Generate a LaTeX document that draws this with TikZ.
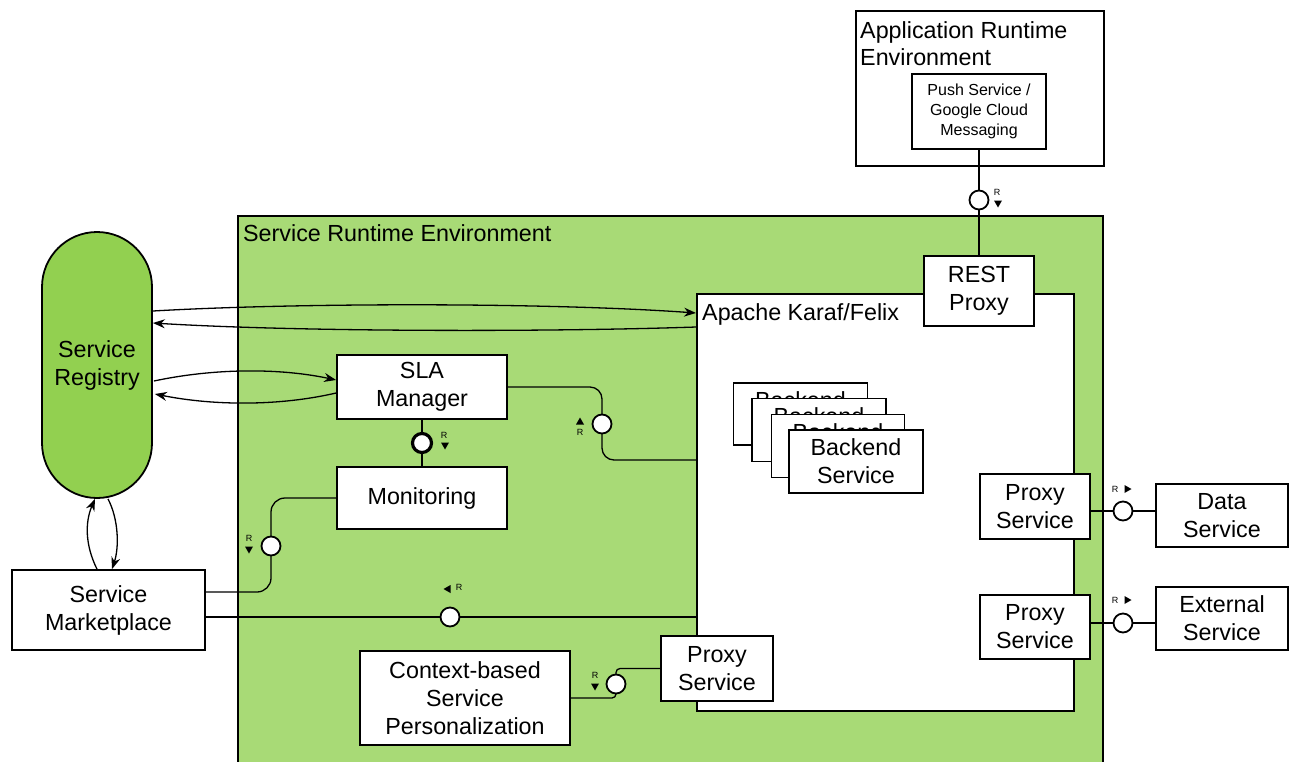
\documentclass[tikz,border=0pt]{standalone}
\usepackage{fontspec}
\setmainfont{Liberation Sans}
\usetikzlibrary{calc,arrows.meta}
\pgfdeclarelayer{bg}
\pgfdeclarelayer{lines}
\pgfsetlayers{bg,lines,main}
\definecolor{sregreen}{RGB}{168,218,118}
\definecolor{reggreen}{RGB}{146,208,80}
\newcommand{\TriDown}[1]{\fill ($(#1)+(-4,-3.5)$) -- ($(#1)+(4,-3.5)$) -- ($(#1)+(0,3.5)$) -- cycle;}
\newcommand{\TriUp}[1]{\fill ($(#1)+(-4,3.5)$) -- ($(#1)+(4,3.5)$) -- ($(#1)+(0,-3.5)$) -- cycle;}
\newcommand{\TriLeft}[1]{\fill ($(#1)+(3.5,-4)$) -- ($(#1)+(3.5,4)$) -- ($(#1)+(-3.5,0)$) -- cycle;}
\newcommand{\TriRight}[1]{\fill ($(#1)+(-3.5,-4)$) -- ($(#1)+(-3.5,4)$) -- ($(#1)+(3.5,0)$) -- cycle;}
\begin{document}
\begin{tikzpicture}[x=1pt,y=-1pt,
  big/.style={font=\fontsize{23.3}{28}\selectfont},
  mid/.style={font=\fontsize{16}{20}\selectfont},
  box/.style={draw, line width=1.8pt, fill=white, align=center, inner sep=0pt, big},
  iface/.style={circle, draw, line width=1.8pt, fill=white, minimum size=19pt, inner sep=0pt},
  conn/.style={line width=1.3pt},
  arr/.style={conn, -{Stealth[length=12pt,width=9pt]}},
  rlab/.style={font=\fontsize{9}{9}\selectfont, inner sep=0pt},
  lbl/.style={big, inner sep=0pt, align=left}]
\useasboundingbox (0,0) rectangle (1290,761);
\clip (0,0) rectangle (1290,761);

\begin{pgfonlayer}{bg}
  \node[draw, line width=1.8pt, fill=sregreen, minimum width=865pt, minimum height=570pt, anchor=north west, inner sep=0pt] (sre) at (237,215) {};
  \node[draw, line width=1.8pt, fill=white, minimum width=377pt, minimum height=417pt, anchor=north west, inner sep=0pt] (karaf) at (696,293) {};
  \node[draw, line width=1.8pt, fill=white, minimum width=248pt, minimum height=155pt, anchor=north west, inner sep=0pt] (app) at (855,10) {};
\end{pgfonlayer}

% labels of containers
\node[lbl, anchor=base west] (tsre) at (243,241) {Service Runtime Environment};
\node[lbl, anchor=base west] (tkar) at (702,320) {Apache Karaf/Felix};
\node[lbl, anchor=base west] (tapp1) at (860,38) {Application Runtime};
\node[lbl, anchor=base west] (tapp2) at (860,65) {Environment};

% boxes
\node[box, mid, minimum width=134pt, minimum height=75pt] (push) at (979,111.5) {Push Service /\\Google Cloud\\Messaging};
\node[box, minimum width=110pt, minimum height=70pt] (rest) at (979,291) {REST\\Proxy};
\node[box, fill=reggreen, rounded corners=55pt, minimum width=110pt, minimum height=266pt] (reg) at (97,365) {Service\\Registry};
\node[box, minimum width=170pt, minimum height=64pt] (sla) at (422,387) {SLA\\Manager};
\node[box, minimum width=170pt, minimum height=62pt] (mon) at (422,498) {Monitoring};
\node[box, minimum width=193pt, minimum height=80pt] (mkt) at (108.5,610) {Service\\Marketplace};
\node[box, minimum width=210pt, minimum height=94pt] (csp) at (465,698) {Context-based\\Service\\Personalization};
\node[box, minimum width=112pt, minimum height=65pt] (proxyB) at (717,668.5) {Proxy\\Service};
\node[box, minimum width=110pt, minimum height=65pt] (proxy1) at (1035,506.5) {Proxy\\Service};
\node[box, minimum width=110pt, minimum height=64pt] (proxy2) at (1035,627) {Proxy\\Service};
\node[box, minimum width=132pt, minimum height=63pt] (data) at (1222,515.5) {Data\\Service};
\node[box, minimum width=132pt, minimum height=63pt] (ext) at (1222,618.5) {External\\Service};
\node[box, minimum width=134pt, minimum height=62pt] (b1) at (800.5,414) {Backend\\Service};
\node[box, minimum width=134pt, minimum height=63pt] (b2) at (819,430) {Backend\\Service};
\node[box, minimum width=133pt, minimum height=63pt] (b3) at (838,446) {Backend\\Service};
\node[box, minimum width=134pt, minimum height=63pt] (b4) at (856,461.5) {Backend\\Service};

% interfaces
\node[iface] (ipush) at (979,200) {};
\node[iface, line width=3.2pt] (isla) at (422,443) {};
\node[iface] (ikar) at (602,424) {};
\node[iface] (imon) at (271,546) {};
\node[iface] (imkt) at (450,617) {};
\node[iface] (icsp) at (616,684) {};
\node[iface] (idata) at (1123,511) {};
\node[iface] (iext) at (1123,623) {};

\begin{pgfonlayer}{lines}
  \draw[conn] (push.south) -- (ipush.center) -- (rest.north);
  \draw[conn] (sla.south) -- (isla.center) -- (mon.north);
  % registry <-> karaf
  \draw[arr] ($(reg.east)+(0,-54)$) .. controls (300,302.5) and (550,302.5) .. ($(karaf.north west)+(0,20)$);
  \draw[arr] ($(karaf.north west)+(0,34)$) .. controls (550,332) and (300,332) .. ($(reg.east)+(0,-42)$);
  % registry <-> sla
  \draw[arr] ($(reg.east)+(1,16)$) .. controls (215,368) and (280,368) .. ($(sla.west)+(0,-7)$);
  \draw[arr] ($(sla.west)+(0,6)$) .. controls (280,406) and (215,406) .. ($(reg.east)+(2,29)$);
  % registry <-> marketplace
  \draw[arr] ($(mkt.north)+(-11.5,0)$) .. controls (85,545) and (85,522) .. ($(reg.south)+(-2,0)$);
  \draw[arr] ($(reg.south)+(11,0)$) .. controls (119,520) and (119,548) .. ($(mkt.north)+(3.5,0)$);
  % sla -> karaf
  \draw[conn, rounded corners=12pt] (sla.east) -| (ikar.center) |- (karaf.west |- 0,460);
  % monitoring -> marketplace
  \draw[conn, rounded corners=14pt] (mon.west) -| (imon.center) |- ($(mkt.east)+(0,-18)$);
  % marketplace -> karaf
  \draw[conn] ($(mkt.east)+(0,7)$) -- (imkt.center) -- (karaf.west |- imkt);
  % csp -> proxy
  \draw[conn, rounded corners=4pt] (csp.east) -| (icsp.center) |- (proxyB.west);
  % proxies -> external
  \draw[conn] (proxy1.east |- idata) -- (data.west |- idata);
  \draw[conn] (proxy2.east |- iext) -- (ext.west |- iext);
\end{pgfonlayer}

% R labels
\node[rlab] (rpush) at (997,192) {R};  \TriDown{998,204}
\node[rlab] (rsla) at (444,435) {R};   \TriDown{445,446}
\node[rlab] (rkar) at (580,432) {R};   \TriUp{580,421}
\node[rlab] (rmon) at (249,538) {R};   \TriDown{249,550}
\node[rlab] (rmkt) at (459,587) {R};   \TriLeft{447,589}
\node[rlab] (rcsp) at (595,675) {R};   \TriDown{595,687}
\node[rlab] (rdata) at (1115,489) {R}; \TriRight{1128,489}
\node[rlab] (rext) at (1115,600) {R};  \TriRight{1128,600}
\end{tikzpicture}
\end{document}
